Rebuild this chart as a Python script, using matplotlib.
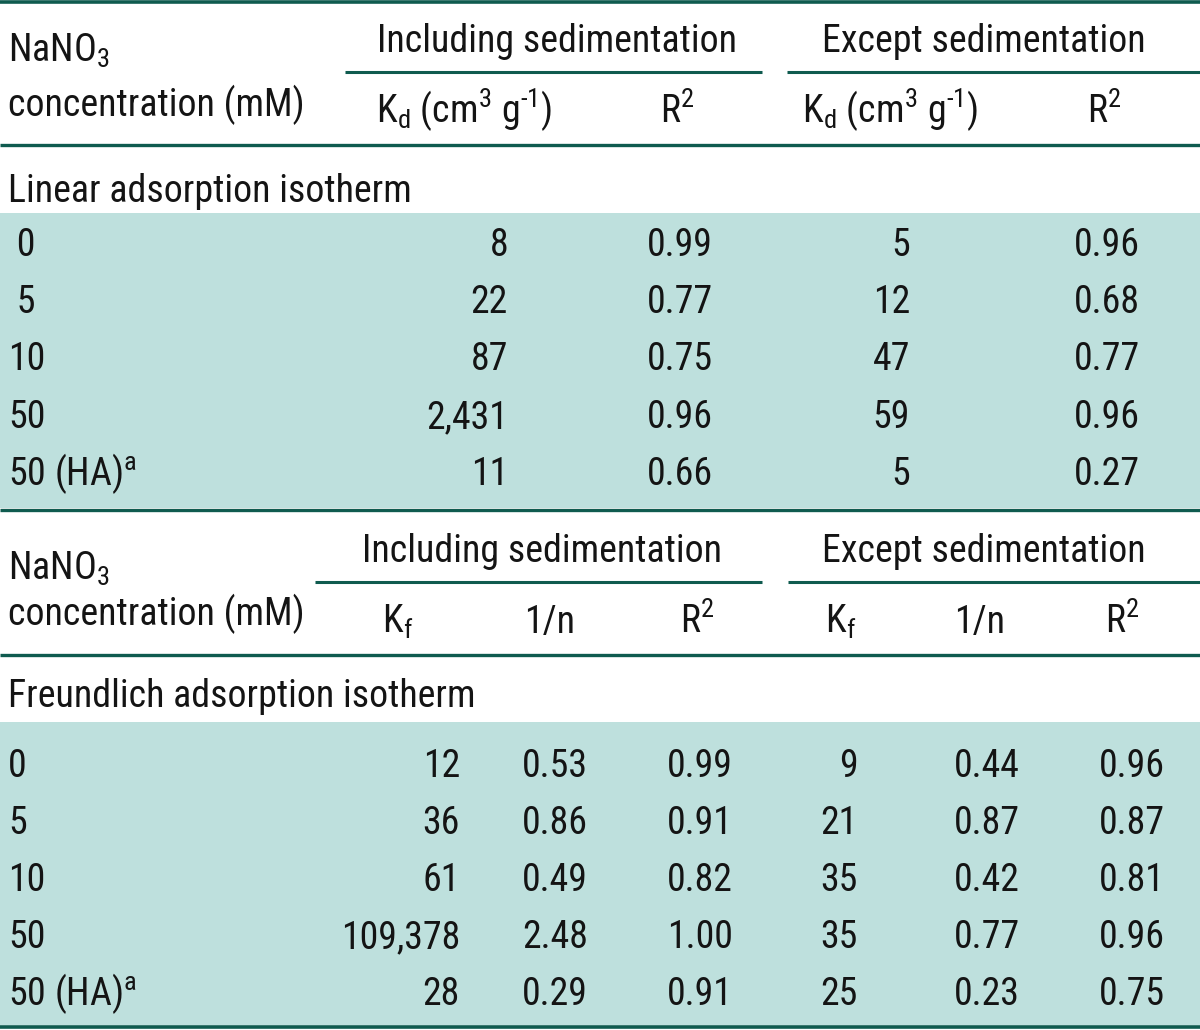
import matplotlib
matplotlib.use("Agg")
import matplotlib.pyplot as plt
from matplotlib import font_manager

# ---------------- data ----------------
conc_lin = [" 0", " 5", "10", "50", "50 (HA)$^\\mathrm{a}$"]
kd_incl = [8, 22, 87, 2431, 11]
r2_lin_incl = [0.99, 0.77, 0.75, 0.96, 0.66]
kd_excl = [5, 12, 47, 59, 5]
r2_lin_excl = [0.96, 0.68, 0.77, 0.96, 0.27]

conc_fr = ["0", "5", "10", "50", "50 (HA)$^\\mathrm{a}$"]
kf_incl = [12, 36, 61, 109378, 28]
n_incl = [0.53, 0.86, 0.49, 2.48, 0.29]
r2_fr_incl = [0.99, 0.91, 0.82, 1.00, 0.91]
kf_excl = [9, 21, 35, 35, 25]
n_excl = [0.44, 0.87, 0.42, 0.77, 0.23]
r2_fr_excl = [0.96, 0.87, 0.81, 0.96, 0.75]

group_labels = ["Including sedimentation", "Except sedimentation"]
lin_cols = ["K$_\\mathrm{d}$ (cm$^\\mathrm{3}$ g$^\\mathrm{\\text{-}1}$)", "R$^\\mathrm{2}$"]
fr_cols = ["K$_\\mathrm{f}$", "1/n", "R$^\\mathrm{2}$"]
row_head = ["NaNO$_\\mathrm{3}$", "concentration (mM)"]
section_titles = ["Linear adsorption isotherm", "Freundlich adsorption isotherm"]

# ---------------- style ----------------
names = {f.name for f in font_manager.fontManager.ttflist}
fam = "DejaVu Sans"
for cand in ["Roboto Condensed", "Archivo Narrow", "Pragati Narrow", "PT Sans Narrow",
             "Liberation Sans Narrow", "Barlow Semi Condensed"]:
    if cand in names:
        fam = cand
        break
plt.rcParams["font.family"] = [fam, "DejaVu Sans"]
plt.rcParams["mathtext.fontset"] = "custom"
plt.rcParams["mathtext.rm"] = fam
plt.rcParams["mathtext.it"] = fam
plt.rcParams["mathtext.default"] = "regular"

LINE = "#0f5b4f"
FILL = "#bee0dd"
TXT = "#141414"

fig = plt.figure(figsize=(12, 10.3), dpi=100)
ax = fig.add_axes([0, 0, 1, 1])
ax.set_xlim(0, 1200)
ax.set_ylim(1030, 0)
ax.axis("off")

# size the font so that the group header has the reference width (~359 px)
probe = ax.text(0, 0, group_labels[0], fontsize=30)
fig.canvas.draw()
w = probe.get_window_extent().width
probe.remove()
FS = 30 * 359.0 / w

def t(x, y, s, ha="left"):
    ax.text(x, y, s, ha=ha, va="baseline", fontsize=FS, color=TXT)

def fmt_int(v):
    return f"{v:,}"

def fmt_f(v):
    return f"{v:.2f}"

# ---------------- table 1 (linear) ----------------
ax.axhspan(213, 508, color=FILL, lw=0, zorder=0)
ax.hlines([2], 0, 1200, color=LINE, lw=2.6)
ax.hlines([72], 345, 762, color=LINE, lw=2.2)
ax.hlines([72], 787, 1200, color=LINE, lw=2.2)
ax.hlines([145], 0, 1200, color=LINE, lw=2.4)
ax.hlines([510], 0, 1200, color=LINE, lw=2.4)

t(8, 62, row_head[0])
t(8, 116, row_head[1])
t(557, 52, group_labels[0], "center")
t(984, 52, group_labels[1], "center")
t(464, 123, lin_cols[0], "center")
t(677, 123, lin_cols[1], "center")
t(890, 123, lin_cols[0], "center")
t(1104, 123, lin_cols[1], "center")
t(8, 202, section_titles[0])

base1 = [256, 313, 370, 428, 485]
for i, y in enumerate(base1):
    t(8, y, conc_lin[i])
    t(508, y, fmt_int(kd_incl[i]), "right")
    t(713, y, fmt_f(r2_lin_incl[i]), "right")
    t(910, y, fmt_int(kd_excl[i]), "right")
    t(1140, y, fmt_f(r2_lin_excl[i]), "right")

# ---------------- table 2 (Freundlich) ----------------
ax.axhspan(722, 1025, color=FILL, lw=0, zorder=0)
ax.hlines([582], 315, 762, color=LINE, lw=2.2)
ax.hlines([582], 788, 1200, color=LINE, lw=2.2)
ax.hlines([655], 0, 1200, color=LINE, lw=2.4)
ax.hlines([1027], 0, 1200, color=LINE, lw=2.6)

t(8, 580, row_head[0])
t(8, 625, row_head[1])
t(542, 562, group_labels[0], "center")
t(984, 562, group_labels[1], "center")
t(398, 633, fr_cols[0], "center")
t(550, 633, fr_cols[1], "center")
t(697, 633, fr_cols[2], "center")
t(841, 633, fr_cols[0], "center")
t(980, 633, fr_cols[1], "center")
t(1122, 633, fr_cols[2], "center")
t(8, 707, section_titles[1])

base2 = [777, 834, 891, 948, 1005]
for i, y in enumerate(base2):
    t(8, y, conc_fr[i])
    t(460, y, fmt_int(kf_incl[i]), "right")
    t(588, y, fmt_f(n_incl[i]), "right")
    t(733, y, fmt_f(r2_fr_incl[i]), "right")
    t(858, y, fmt_int(kf_excl[i]), "right")
    t(1020, y, fmt_f(n_excl[i]), "right")
    t(1165, y, fmt_f(r2_fr_excl[i]), "right")

fig.savefig("out.png", dpi=100, facecolor="white")
